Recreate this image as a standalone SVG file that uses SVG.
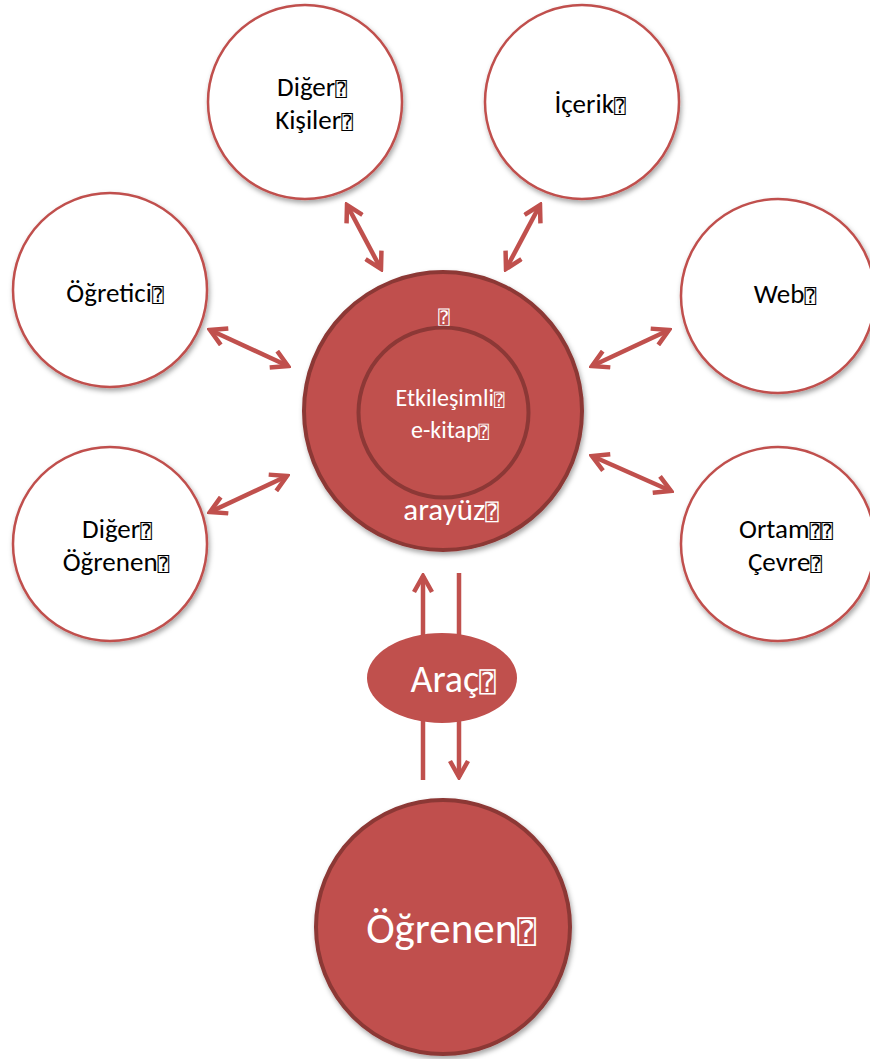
<svg xmlns="http://www.w3.org/2000/svg" width="870" height="1059" viewBox="0 0 870 1059">
<style>
.sat{fill:#fff;stroke:#C0504D;stroke-width:2.5;filter:url(#sh)}
.red{fill:#C0504D;stroke:#8C3836;stroke-width:4}
.t{font-family:Carlito,Lato,"Open Sans",sans-serif;font-size:27px;fill:#000;text-anchor:middle}
.w{font-family:Carlito,Lato,"Open Sans",sans-serif;fill:#fff;text-anchor:middle}
.q{font-family:"DejaVu Sans Mono","DejaVu Sans",monospace;font-size:0.72em}
.c{stroke:#C0504D;stroke-width:4.5;fill:none}
</style>
<defs>
<filter id="sh" x="-20%" y="-20%" width="140%" height="140%">
<feDropShadow dx="1.5" dy="3" stdDeviation="2.5" flood-color="#000" flood-opacity="0.35"/>
</filter>
<marker id="ah" viewBox="0 0 22 22" refX="19" refY="11" markerWidth="22" markerHeight="22" markerUnits="userSpaceOnUse" orient="auto-start-reverse">
<path d="M3,2 L19,11 L3,20" fill="none" stroke="#C0504D" stroke-width="4.5" stroke-linejoin="miter"/>
</marker>
</defs>
<rect width="870" height="1059" fill="#fff"/>

<g id="connectors">
<line class="c" x1="347" y1="205" x2="381" y2="269" marker-start="url(#ah)" marker-end="url(#ah)"/>
<line class="c" x1="540" y1="205" x2="506" y2="269" marker-start="url(#ah)" marker-end="url(#ah)"/>
<line class="c" x1="210" y1="330" x2="288" y2="366" marker-start="url(#ah)" marker-end="url(#ah)"/>
<line class="c" x1="669" y1="330" x2="592" y2="366" marker-start="url(#ah)" marker-end="url(#ah)"/>
<line class="c" x1="210" y1="512" x2="287" y2="476" marker-start="url(#ah)" marker-end="url(#ah)"/>
<line class="c" x1="592" y1="456" x2="671" y2="491" marker-start="url(#ah)" marker-end="url(#ah)"/>
<line class="c" x1="423" y1="780" x2="423" y2="576" marker-end="url(#ah)"/>
<line class="c" x1="459" y1="573" x2="459" y2="777" marker-end="url(#ah)"/>
</g>

<g id="node-diger-kisiler">
<circle class="sat" cx="305" cy="102" r="97"/>
<text class="t"><tspan x="312" y="96">Diğer<tspan class="q">⍰</tspan></tspan><tspan x="314" y="129">Kişiler<tspan class="q">⍰</tspan></tspan></text>
</g>
<g id="node-icerik">
<circle class="sat" cx="582" cy="102" r="97"/>
<text class="t" x="590" y="113">İçerik<tspan class="q">⍰</tspan></text>
</g>
<g id="node-ogretici">
<circle class="sat" cx="110" cy="290" r="97"/>
<text class="t" x="115" y="302">Öğretici<tspan class="q">⍰</tspan></text>
</g>
<g id="node-web">
<circle class="sat" cx="778" cy="296" r="97"/>
<text class="t" x="785" y="303">Web<tspan class="q">⍰</tspan></text>
</g>
<g id="node-diger-ogrenen">
<circle class="sat" cx="110" cy="544" r="97"/>
<text class="t"><tspan x="117" y="538">Diğer<tspan class="q">⍰</tspan></tspan><tspan x="116" y="571">Öğrenen<tspan class="q">⍰</tspan></tspan></text>
</g>
<g id="node-ortam-cevre">
<circle class="sat" cx="778" cy="544" r="97"/>
<text class="t"><tspan x="786" y="538">Ortam<tspan class="q">⍰⍰</tspan></tspan><tspan x="785" y="571">Çevre<tspan class="q">⍰</tspan></tspan></text>
</g>

<g id="node-arayuz">
<circle class="red" cx="443" cy="411" r="139" filter="url(#sh)"/>
<text class="w" x="444" y="324" font-size="26"><tspan class="q">⍰</tspan></text>
<text class="w" x="451" y="520" font-size="31">arayüz<tspan class="q">⍰</tspan></text>
</g>
<g id="node-etkilesimli-ekitap">
<circle class="red" cx="443.5" cy="412.5" r="85"/>
<text class="w" font-size="24"><tspan x="450" y="406">Etkileşimli<tspan class="q">⍰</tspan></tspan><tspan x="450" y="438">e-kitap<tspan class="q">⍰</tspan></tspan></text>
</g>

<g id="node-arac">
<ellipse cx="442" cy="678" rx="75" ry="45" fill="#C0504D"/>
<text class="w" x="453" y="692" font-size="38">Araç<tspan class="q">⍰</tspan></text>
</g>

<g id="node-ogrenen">
<circle class="red" cx="443" cy="927" r="127" filter="url(#sh)"/>
<text class="w" x="451" y="943" font-size="43">Öğrenen<tspan class="q">⍰</tspan></text>
</g>
</svg>
